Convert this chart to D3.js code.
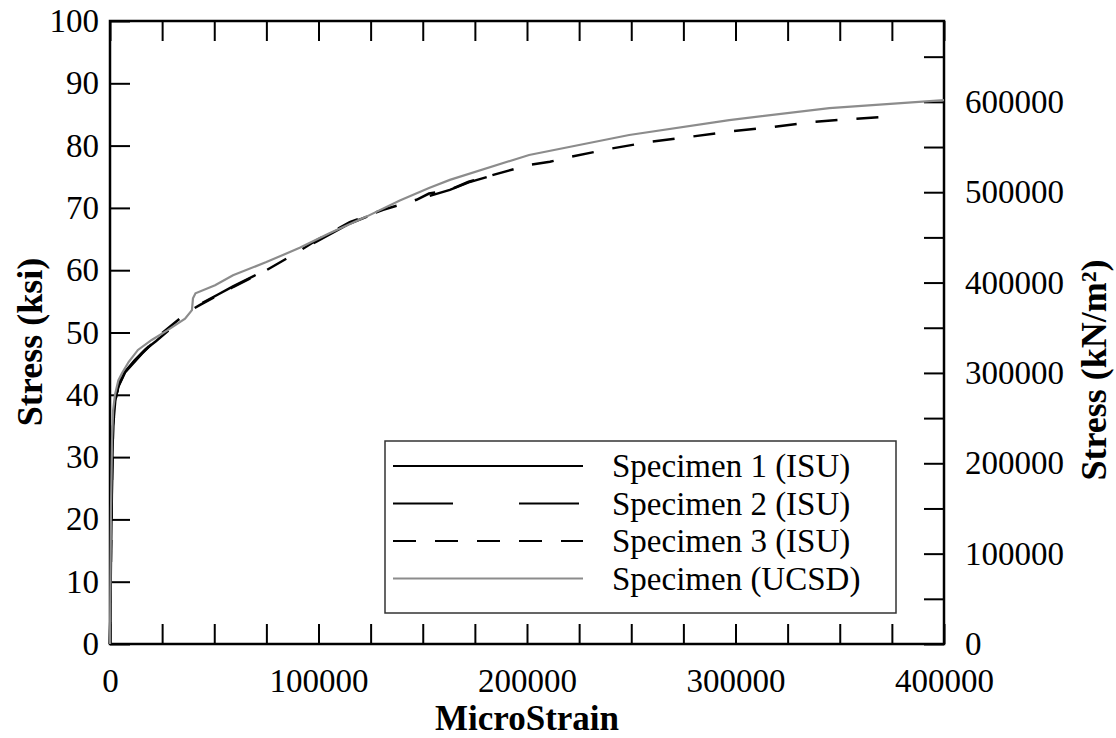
<!DOCTYPE html>
<html><head><meta charset="utf-8">
<script src="https://cdn.jsdelivr.net/npm/d3@7/dist/d3.min.js"></script>
<style>body{margin:0;background:#fff}svg{display:block}</style>
</head><body>
<svg id="c" width="1116" height="738"></svg>
<script>
// ---- data (strain in microstrain, stress in ksi) ----
const seriesNames = ["Specimen 1 (ISU)", "Specimen 2 (ISU)", "Specimen 3 (ISU)", "Specimen (UCSD)"];
const spec1Strain = [0, 500, 1000, 1500, 2500, 4000, 7200, 12000, 17000, 22000, 28000];
const spec1Stress = [0, 15, 28, 35, 39, 41.5, 43.7, 45.6, 47.3, 48.6, 50.3];
const spec2Strain = [0, 500, 1000, 1500, 2500, 4000, 7200, 15300, 25000, 37400, 43000, 51800, 59000, 75000, 88000, 99000, 115000, 131000, 147000, 163000, 172000, 201000];
const spec2Stress = [0, 14, 27, 34.5, 38.8, 41.3, 43.6, 46.6, 49.8, 53.2, 54.5, 56.1, 57.4, 60.1, 62.6, 64.6, 67.5, 69.6, 71.3, 72.9, 74.1, 76.9];
const spec3Strain = [0, 500, 1000, 1500, 2500, 4000, 7200, 15300, 25000, 37400, 43000, 51800, 59000, 75000, 88000, 99000, 115000, 131000, 147000, 153000, 163000, 172000, 201000, 211000, 221000, 240000, 259000, 278000, 298000, 318000, 337000, 357000, 371000];
const spec3Stress = [0, 15, 28, 35, 39, 41.5, 43.7, 46.7, 49.9, 53.3, 54.4, 56, 57.3, 60, 62.5, 64.8, 67.7, 69.7, 71.3, 72.3, 72.9, 74.2, 76.9, 77.4, 78.2, 79.5, 80.6, 81.4, 82.3, 83, 83.8, 84.3, 84.6];
const ucsdStrain = [0, 500, 1000, 1500, 2400, 4000, 5800, 9000, 13400, 20000, 27300, 36000, 39300, 39800, 41000, 50400, 59000, 75000, 91000, 105000, 123000, 139000, 153000, 163000, 201000, 249000, 297000, 345000, 400000];
const ucsdStress = [0, 22, 33, 37.5, 40, 42.3, 43.5, 45.3, 47.2, 48.8, 50.3, 52.2, 53.6, 55.5, 56.3, 57.6, 59.2, 61.3, 63.6, 65.9, 68.6, 71.2, 73.2, 74.5, 78.5, 81.7, 84.1, 86, 87.3];
const xTicks = [0, 100000, 200000, 300000, 400000];
const yTicksKsi = [0, 10, 20, 30, 40, 50, 60, 70, 80, 90, 100];
const yTicksKpa = [0, 100000, 200000, 300000, 400000, 500000, 600000];
const KSI_TO_KPA = 6894.757;

// ---- layout ----
const svg = d3.select("#c");
const L = 110, R = 944, T = 21, B = 644;
const x = d3.scaleLinear().domain([0, 400000]).range([L, R]);
const y = d3.scaleLinear().domain([0, 100]).range([B, T]);
const yR = d3.scaleLinear().domain([0, 100 * KSI_TO_KPA]).range([B, T]);
const font = "'Liberation Serif','Times New Roman',serif";
const fs = 33;
const fsTitle = 35;

function styleAxis(g) {
  g.select(".domain").remove();
  g.selectAll(".tick line").attr("stroke", "#000").attr("stroke-width", 2);
  g.selectAll("text").attr("font-family", font).attr("font-size", fs).attr("fill", "#000");
}

const xMinor = d3.range(0, 400001, 25000);
svg.append("g").attr("transform", `translate(0,${B})`)
  .call(d3.axisBottom(x).tickValues(xMinor).tickSizeInner(-20).tickSizeOuter(0).tickPadding(25)
    .tickFormat(d => xTicks.includes(d) ? String(d) : ""))
  .call(styleAxis);
svg.append("g").attr("transform", `translate(0,${T})`)
  .call(d3.axisTop(x).tickValues(xMinor).tickSizeInner(-20).tickSizeOuter(0).tickFormat(""))
  .call(styleAxis);
svg.append("g").attr("transform", `translate(${L},0)`)
  .call(d3.axisLeft(y).tickValues(yTicksKsi).tickSizeInner(-20).tickSizeOuter(0).tickPadding(11)
    .tickFormat(d3.format("d")))
  .call(styleAxis);
const yRMinor = d3.range(0, 650001, 50000);
svg.append("g").attr("transform", `translate(${R},0)`)
  .call(d3.axisRight(yR).tickValues(yRMinor).tickSizeInner(-20).tickSizeOuter(0).tickPadding(21)
    .tickFormat(d => yTicksKpa.includes(d) ? String(d) : ""))
  .call(styleAxis);

// frame
svg.append("rect").attr("x", L).attr("y", T).attr("width", R - L).attr("height", B - T)
  .attr("fill", "none").attr("stroke", "#000").attr("stroke-width", 2.5);

// lines
const line = d3.line().x(d => x(d[0])).y(d => y(d[1]));
const zip = (a, b) => a.map((v, i) => [v, b[i]]);
const series = [
  {data: zip(spec3Strain, spec3Stress), color: "#000", w: 2.5, dash: "22,19"},
  {data: zip(spec2Strain, spec2Stress), color: "#000", w: 2.5, dash: "60,66"},
  {data: zip(spec1Strain, spec1Stress), color: "#000", w: 2.5, dash: null},
  {data: zip(ucsdStrain, ucsdStress), color: "#8c8c8c", w: 2.2, dash: null}
];
series.forEach(s => {
  svg.append("path").attr("d", line(s.data)).attr("fill", "none")
    .attr("stroke", s.color).attr("stroke-width", s.w)
    .attr("stroke-dasharray", s.dash);
});

// legend
const lg = svg.append("g");
lg.append("rect").attr("x", 385).attr("y", 441).attr("width", 511).attr("height", 172)
  .attr("fill", "#fff").attr("stroke", "#333").attr("stroke-width", 1.5);
const legStyles = [
  {color: "#000", dash: null},
  {color: "#000", dash: "60,66"},
  {color: "#000", dash: "23,19"},
  {color: "#8c8c8c", dash: null}
];
seriesNames.forEach((n, i) => {
  const yy = 466 + i * 37.5;
  lg.append("line").attr("x1", 393).attr("x2", 583).attr("y1", yy).attr("y2", yy)
    .attr("stroke", legStyles[i].color).attr("stroke-width", 2.2)
    .attr("stroke-dasharray", legStyles[i].dash);
  lg.append("text").attr("x", 612).attr("y", yy + 11).text(n)
    .attr("font-family", font).attr("font-size", fs).attr("fill", "#000");
});

// titles
svg.append("text").attr("x", (L + R) / 2).attr("y", 730).attr("text-anchor", "middle")
  .attr("font-family", font).attr("font-size", fsTitle).attr("font-weight", "bold").text("MicroStrain");
svg.append("text").attr("transform", `translate(42,342) rotate(-90)`).attr("text-anchor", "middle")
  .attr("font-family", font).attr("font-size", fsTitle + 1).attr("font-weight", "bold").text("Stress (ksi)");
svg.append("text").attr("transform", `translate(1106,370) rotate(-90)`).attr("text-anchor", "middle")
  .attr("font-family", font).attr("font-size", fsTitle + 1).attr("font-weight", "bold").text("Stress (kN/m²)");
</script>
</body></html>
